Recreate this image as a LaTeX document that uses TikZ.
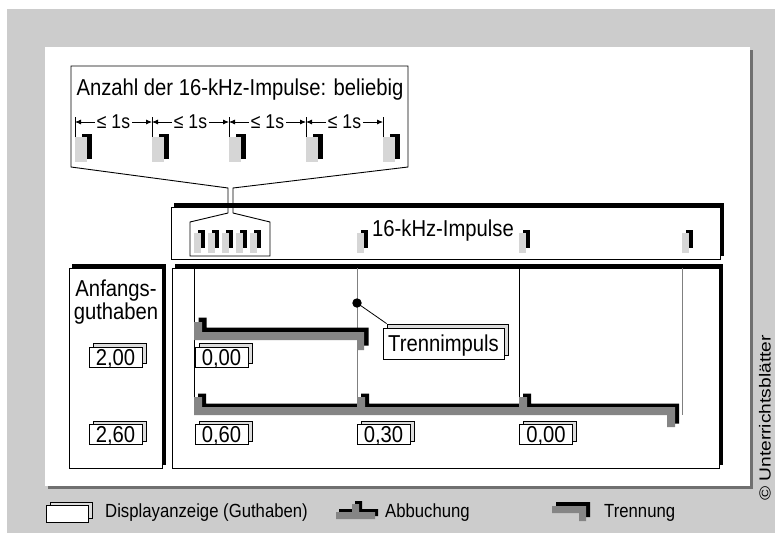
\documentclass[tikz,border=0pt]{standalone}
\usepackage{fontspec}
\setmainfont{Liberation Sans}[FakeStretch=0.88]
\newfontfamily\widesans{Liberation Sans}[FakeStretch=1.2]
\usetikzlibrary{arrows.meta,shadows}
\definecolor{bgray}{HTML}{CCCCCC}
\definecolor{pshadow}{HTML}{707070}
\definecolor{pulsegray}{HTML}{D6D6D6}
\definecolor{bargray}{HTML}{858585}
\definecolor{linegray}{HTML}{808080}
\definecolor{cardback}{HTML}{DDDDDD}
\newcommand{\fsz}[1]{\fontsize{#1pt}{#1pt}\selectfont}
\begin{document}
\begin{tikzpicture}[x=1pt,y=-1pt,
 txt/.style={font=\fsz{23}, inner sep=0pt},
 smalltxt/.style={font=\fsz{20}, fill=white, inner sep=1.5pt},
 legtxt/.style={font=\fsz{19}, inner sep=0pt, anchor=base west},
 framebox/.style={draw=black, line width=0.9pt, fill=white, inner sep=0pt,
   copy shadow={shadow xshift=3.5pt, shadow yshift=4pt, fill=black, draw=black, line width=0.9pt}},
 card/.style={draw=black, line width=0.9pt, fill=white, inner sep=0pt,
   minimum width=53pt, minimum height=20pt, font=\fsz{23}, text height=16.5pt, text depth=0pt,
   copy shadow={shadow xshift=4pt, shadow yshift=#1, fill=cardback, draw=black, line width=0.7pt}},
 card/.default=3.5pt,
 callout/.style={draw=black, line width=0.9pt},
 pulseback/.style={fill=black},
 pulseface/.style={fill=pulsegray},
 barshade/.style={fill=black},
 barface/.style={fill=bargray},
 tick/.style={draw=black, line width=0.8pt},
 dim/.style={line width=0.8pt, {Latex[length=6pt,width=5pt]}-{Latex[length=6pt,width=5pt]}},
 darkline/.style={draw=black, line width=0.9pt},
 greyline/.style={draw=linegray, line width=1pt},
]
\useasboundingbox (0,0) rectangle (775,533);
% background and panel
\fill[white] (0,0) rectangle (775,533);
\fill[bgray] (7,9) rectangle (775,533);
\fill[pshadow] (48,50) rectangle (753,489);
\fill[white] (45,47) rectangle (750,486);

% frames
\node[framebox, minimum width=549pt, minimum height=52pt] (imp) at (445.5,233) {};
\node[framebox, minimum width=547pt, minimum height=200pt] (main) at (445.5,368) {};
\node[framebox, minimum width=93pt, minimum height=200pt] (start) at (115.5,368) {};

% time lines in the main frame
\draw[darkline] (194,268) -- (194,397);
\draw[greyline] (357,268) -- (357,397);
\draw[darkline] (519,268) -- (519,397);
\draw[greyline] (682,268) -- (682,415);

% upper bar
\begin{scope}[shift={(4.5,-4.5)}]
\fill[barshade] (194,322) rectangle (202,340) (194,332) rectangle (364,340) (357,332) rectangle (364,350);
\end{scope}
\fill[barface] (194,322) rectangle (202,340) (194,332) rectangle (364,340) (357,332) rectangle (364,350);
% lower bar
\begin{scope}[shift={(4,-3.5)}]
\fill[barshade] (194,397) rectangle (202,415) (194,407) rectangle (675,415) (357,397) rectangle (365,415)
  (519,397) rectangle (527,415) (667,407) rectangle (675,427);
\end{scope}
\fill[barface] (194,397) rectangle (202,415) (194,407) rectangle (675,415) (357,397) rectangle (365,415)
  (519,397) rectangle (527,415) (667,407) rectangle (675,427);

% display cards
\node[card] (g200) at (115.5,357) {2,00};
\node[card] (r000) at (221.5,357) {0,00};
\node[card] (g260) at (115.5,434.5) {2,60};
\node[card] (r060) at (221.5,434.5) {0,60};
\node[card] (r030) at (383.5,434.5) {0,30};
\node[card] (r000b) at (546,434.5) {0,00};
\node[card=4pt, minimum width=121pt, minimum height=31pt] (trenn) at (443.5,343.5) {Trennimpuls};
\node[circle, fill=black, minimum size=5pt] (dot) at (357,303) {};
\draw[line width=0.8pt] (dot.center) -- ([shift={(4,-4)}]trenn.north west);

% callout
\draw[callout] (228,213) -- (228,188) -- (71,167) -- (71,66) -- (408,66) -- (408,167) -- (233,188) -- (233,213);
\draw[callout] (228,213) -- (190,222) -- (190,256) -- (270,256) -- (270,222) -- (233,213);

% big pulses with spacing marks
\foreach \x in {75,152,229,306,383} {
  \draw[tick] (\x,117) -- (\x,140);
  \fill[pulseback] (\x+7,134) rectangle (\x+17,159);
  \fill[pulseface] (\x,137) rectangle (\x+12,162);
}
\foreach \a/\b in {75/152,152/229,229/306,306/383}
  \draw[dim] (\a,122) -- (\b,122) node[midway, smalltxt] {≤ 1s};

% small pulses
\foreach \x in {194,208,222,236,250,357,519,682} {
  \fill[pulseback] (\x+4,230) rectangle (\x+11,248);
  \fill[pulseface] (\x,233) rectangle (\x+7,253);
}

% texts
\node[txt, anchor=base] (ttl) at (240,95) {Anzahl der 16-kHz-Impulse: beliebig};
\node[txt, anchor=base] (imptxt) at (443,236) {16-kHz-Impulse};
\node[txt, anchor=base] (af1) at (116,296) {Anfangs-};
\node[txt, anchor=base] (af2) at (116,319) {guthaben};

% legend
\node[card, minimum width=42pt, minimum height=16pt] (legcard) at (67,514) {};
\node[legtxt] (legt1) at (105,517) {Displayanzeige (Guthaben)};
\begin{scope}[shift={(3,-3)}]
\fill[barshade] (336,512) rectangle (375,519) (352,504) rectangle (359,519);
\end{scope}
\fill[barface] (336,512) rectangle (375,519) (352,504) rectangle (359,519);
\node[legtxt] (legt2) at (385,517) {Abbuchung};
\begin{scope}[shift={(4,-4)}]
\fill[barshade] (552,506) rectangle (586,513) (579,506) rectangle (586,521);
\end{scope}
\fill[barface] (552,506) rectangle (586,513) (579,506) rectangle (586,521);
\node[legtxt] (legt3) at (604,517) {Trennung};

\node[rotate=90, font=\widesans\fsz{16}, inner sep=0pt] (copyr) at (765,418) {© Unterrichtsblätter};
\end{tikzpicture}
\end{document}
